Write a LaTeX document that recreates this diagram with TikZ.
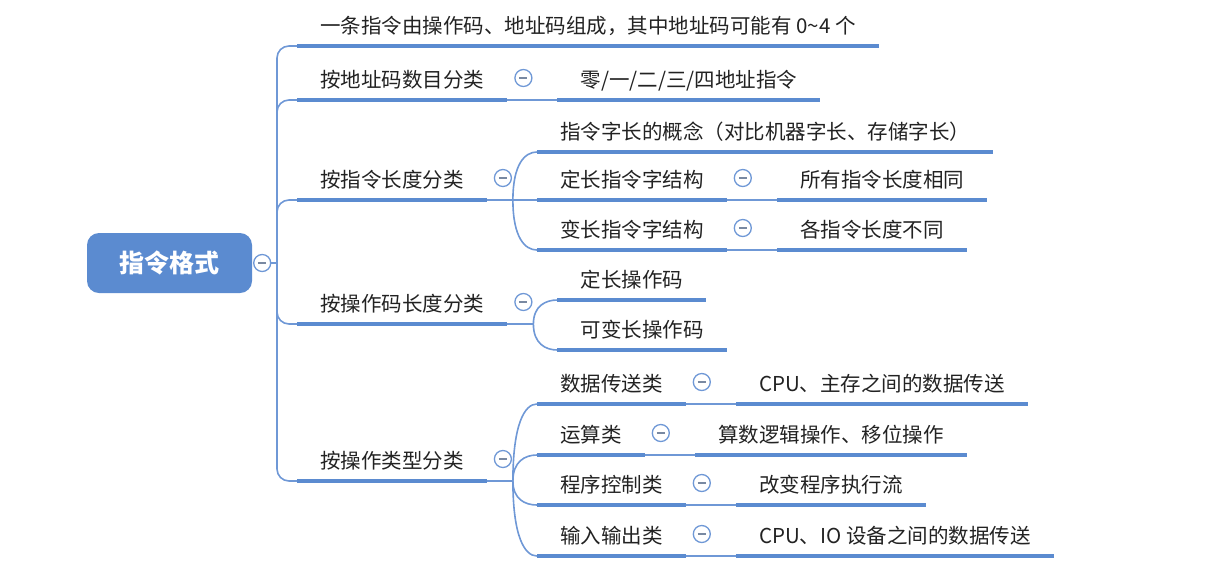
\documentclass[tikz,border=0pt]{standalone}
\usepackage{fontspec}
\setmainfont{Noto Sans CJK SC}
\usetikzlibrary{calc}
\definecolor{mapblue}{RGB}{91,139,208}
\definecolor{linkblue}{RGB}{111,152,214}
\definecolor{txtgray}{RGB}{34,34,34}

\begin{document}
\begin{tikzpicture}[x=1pt,y=-1pt] % pixel-like units, y downwards
	\tikzset{topic/.style={anchor=south west, inner xsep=23pt, inner ysep=10pt, text height=16pt, text depth=2pt, text=txtgray, font=\fontsize{20.5}{20.5}\selectfont},
		rootbox/.style={rounded corners=12pt, fill=mapblue, text=white, minimum width=165pt, minimum height=60pt, font=\bfseries\fontsize{25}{25}\selectfont},
		uline/.style={mapblue, line width=4.5pt},
		link/.style={linkblue, line width=1.6pt},
		fold/.style={circle, draw=linkblue, fill=white, line width=1.3pt, minimum size=17pt, inner sep=0pt,
			path picture={\draw[gray!60!linkblue, line width=1.6pt] ([xshift=-4pt]path picture bounding box.center) -- ([xshift=4pt]path picture bounding box.center);}}}
	
	% Fix the size of the page
	\useasboundingbox (0,0) rectangle (1225,582);
	
	% Central topic
	\node[rootbox] (root) at (169.5,263) {指令格式};
	\node[fold] (rootfold) at ($(root.east)+(10,0)$) {};
	\coordinate (trunk) at (277,263);
	\draw[link] (rootfold.east) -- (trunk);
	
	% Level one topics
	\node[topic] (intro) at (297,46) {一条指令由操作码、地址码组成，其中地址码可能有 0\textasciitilde4 个};
	\node[topic] (addr) at (297,100) {按地址码数目分类};
	\node[topic] (len) at (297,200) {按指令长度分类};
	\node[topic] (opl) at (297,324) {按操作码长度分类};
	\node[topic] (optype) at (297,481) {按操作类型分类};
	
	\foreach \n in {intro,addr,len,opl,optype}
	{
		\draw[link, rounded corners=12pt] (trunk) |- (\n.south west);
	}
	
	% Level two topics
	\node[topic] (addrkind) at ($(addr.south east)+(50,0)$) {零/一/二/三/四地址指令};
	
	\coordinate (lenfork) at ($(len.south east)+(26,0)$);
	\node[topic] (wordlen) at ($(len.south east)+(50,-48)$) {指令字长的概念（对比机器字长、存储字长）};
	\node[topic] (fixed) at ($(len.south east)+(50,0)$) {定长指令字结构};
	\node[topic] (var) at ($(len.south east)+(50,50)$) {变长指令字结构};
	
	\coordinate (oplfork) at ($(opl.south east)+(26,0)$);
	\node[topic] (fixop) at ($(opl.south east)+(50,-24)$) {定长操作码};
	\node[topic] (varop) at ($(opl.south east)+(50,26)$) {可变长操作码};
	
	\coordinate (typefork) at ($(optype.south east)+(26,0)$);
	\node[topic] (move) at ($(optype.south east)+(50,-77)$) {数据传送类};
	\node[topic] (arith) at ($(optype.south east)+(50,-26)$) {运算类};
	\node[topic] (ctrl) at ($(optype.south east)+(50,24)$) {程序控制类};
	\node[topic] (io) at ($(optype.south east)+(50,75)$) {输入输出类};
	
	% Level three topics
	\node[topic] (fixedall) at ($(fixed.south east)+(50,0)$) {所有指令长度相同};
	\node[topic] (varall) at ($(var.south east)+(50,0)$) {各指令长度不同};
	\node[topic] (movedesc) at ($(move.south east)+(50,0)$) {CPU、主存之间的数据传送};
	\node[topic] (arithdesc) at ($(arith.south east)+(50,0)$) {算数逻辑操作、移位操作};
	\node[topic] (ctrldesc) at ($(ctrl.south east)+(50,0)$) {改变程序执行流};
	\node[topic] (iodesc) at ($(io.south east)+(50,0)$) {CPU、IO 设备之间的数据传送};
	
	% Straight links to single children
	\draw[link] (addr.south east) -- (addrkind.south west);
	\draw[link] (fixed.south east) -- (fixedall.south west);
	\draw[link] (var.south east) -- (varall.south west);
	\draw[link] (move.south east) -- (movedesc.south west);
	\draw[link] (arith.south east) -- (arithdesc.south west);
	\draw[link] (ctrl.south east) -- (ctrldesc.south west);
	\draw[link] (io.south east) -- (iodesc.south west);
	
	% Forked links
	\draw[link] (len.south east) -- (lenfork);
	\foreach \c in {wordlen,fixed,var}
	{
		\draw[link] (lenfork) .. controls ($(lenfork)!0.75!(lenfork |- \c.south west)$) and ($(lenfork |- \c.south west)!0.5!(\c.south west)$) .. (\c.south west);
	}
	\draw[link] (opl.south east) -- (oplfork);
	\foreach \c in {fixop,varop}
	{
		\draw[link] (oplfork) .. controls ($(oplfork)!0.75!(oplfork |- \c.south west)$) and ($(oplfork |- \c.south west)!0.5!(\c.south west)$) .. (\c.south west);
	}
	\draw[link] (optype.south east) -- (typefork);
	\foreach \c in {move,arith,ctrl,io}
	{
		\draw[link] (typefork) .. controls ($(typefork)!0.75!(typefork |- \c.south west)$) and ($(typefork |- \c.south west)!0.5!(\c.south west)$) .. (\c.south west);
	}
	
	% Thick underlines
	\foreach \n in {intro,addr,len,opl,optype,addrkind,wordlen,fixed,var,fixop,varop,move,arith,ctrl,io,fixedall,varall,movedesc,arithdesc,ctrldesc,iodesc}
	{
		\draw[uline] (\n.south west) -- (\n.south east);
	}
	
	% Collapse buttons
	\foreach \n in {addr,len,opl,optype,fixed,var,move,arith,ctrl,io}
	{
		\node[fold] (\n-fold) at ($(\n.south east)+(16,-22)$) {};
	}
	
\end{tikzpicture}
\end{document}
